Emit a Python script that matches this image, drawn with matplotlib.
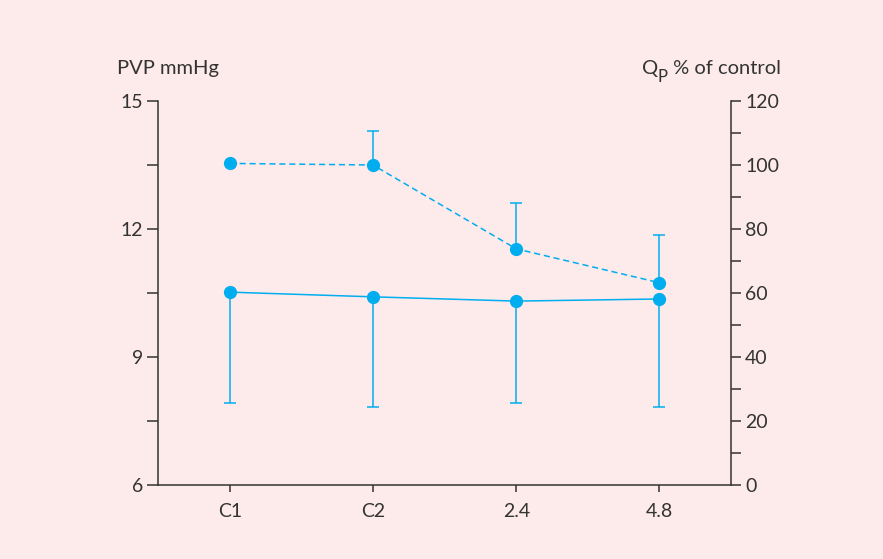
import matplotlib.pyplot as plt
import numpy as np
from matplotlib.transforms import IdentityTransform

plt.rcParams['font.family'] = ['Lato', 'DejaVu Sans']

conditions = ["C1", "C2", "2.4", "4.8"]
pvp = [10.52, 10.41, 10.31, 10.36]
pvp_err_down = [2.60, 2.58, 2.39, 2.53]
qp = [100.5, 100.0, 73.8, 63.2]
qp_err_up = [0.0, 10.6, 14.3, 14.8]

blue = "#00aeef"
ink = "#333333"
bg = "#fdeaea"

fig = plt.figure(figsize=(8.83, 5.59), dpi=100, facecolor=bg)
ax = fig.add_axes([0.179, 0.1324, 0.649, 0.6869], facecolor=bg)
ax2 = ax.twinx()

x = np.arange(len(conditions))

# PVP (solid, left axis), SD downward
ax.errorbar(x, pvp, yerr=[pvp_err_down, [0] * len(x)], color=blue, lw=1.1,
            marker="o", ms=8.5, capsize=4.3, elinewidth=1.1, capthick=1.1, zorder=3)

# Qp (dashed, right axis), SD upward
has_err = [e > 0 for e in qp_err_up]
ax2.plot(x, qp, color=blue, lw=1.1, ls=(0, (4, 2.5)), marker="o", ms=8.5, zorder=3)
ax2.errorbar(x[has_err], np.array(qp)[has_err],
             yerr=[np.zeros(sum(has_err)), np.array(qp_err_up)[has_err]],
             fmt="none", ecolor=blue, elinewidth=1.1, capsize=4.3, capthick=1.1)

ax.set_xlim(-0.5, 3.5)
ax.set_ylim(6, 15)
ax2.set_ylim(0, 120)

ax.set_xticks(x)
ax.set_xticklabels(conditions)
ax.set_yticks([6, 9, 12, 15])
ax.set_yticks(np.arange(6, 15.1, 1.5), minor=True)
ax2.set_yticks(np.arange(0, 121, 20))
ax2.set_yticks(np.arange(0, 121, 10), minor=True)

for a in (ax, ax2):
    a.spines["top"].set_visible(False)
    for s in a.spines.values():
        s.set_color(ink)
        s.set_linewidth(1.1)
ax.spines["right"].set_visible(False)
ax2.spines["left"].set_visible(False)
ax2.spines["bottom"].set_visible(False)

ax.tick_params(axis="y", which="both", length=8, width=1.1, color=ink,
               labelsize=14, labelcolor=ink, pad=3)
ax.tick_params(axis="x", length=5, width=1.1, color=ink, labelsize=14,
               labelcolor=ink, pad=8)
ax2.tick_params(axis="y", which="both", length=7, width=1.1, color=ink,
                labelsize=14, labelcolor=ink, pad=3)

fig.text(0.133, 0.878, "PVP mmHg", fontsize=14.5, color=ink, ha="left", va="center")

# right header: Q with a subscript P, built from pieces (pixel coords)
rest = fig.text(0.884, 0.878, " % of control", fontsize=14.5, color=ink,
                ha="right", va="center")
fig.canvas.draw()
r = fig.canvas.get_renderer()
bb = rest.get_window_extent(r)
yc = bb.y0 + bb.height / 2
sub = fig.text(bb.x0, yc - 9, "P", fontsize=12, color=ink, ha="right",
               va="center", transform=IdentityTransform())
sb = sub.get_window_extent(r)
fig.text(sb.x0 + 0.5, yc, "Q", fontsize=14.5, color=ink, ha="right",
         va="center", transform=IdentityTransform())

fig.savefig("out.png", dpi=100, facecolor=bg)
